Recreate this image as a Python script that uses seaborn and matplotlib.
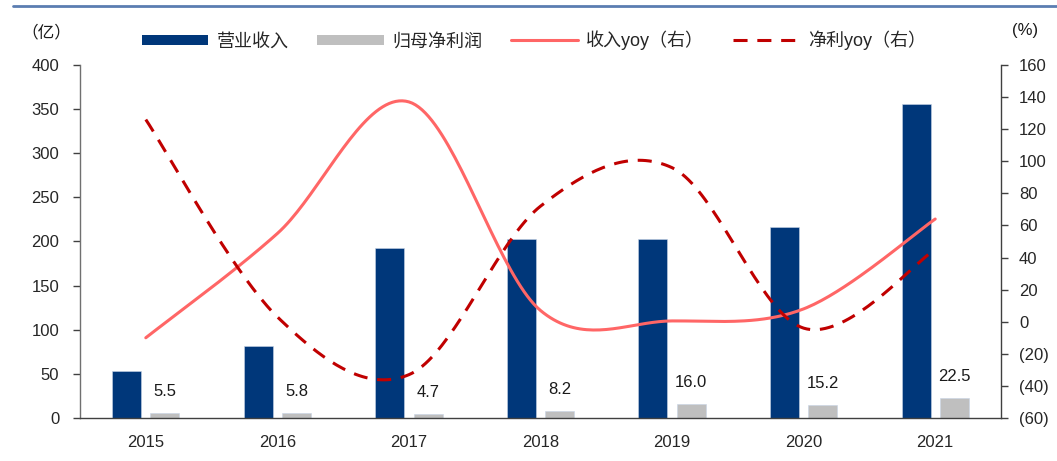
import numpy as np
import pandas as pd
import matplotlib
matplotlib.use("Agg")
import matplotlib.pyplot as plt
import seaborn as sns
from matplotlib.patches import Patch
from matplotlib.lines import Line2D
from matplotlib.ticker import FuncFormatter, MultipleLocator

# ---------------- data ----------------
years = ["2015", "2016", "2017", "2018", "2019", "2020", "2021"]
revenue = [53, 82, 193, 203, 203, 216, 356]          # 营业收入 (亿)
net_profit = [5.5, 5.8, 4.7, 8.2, 16.0, 15.2, 22.5]  # 归母净利润 (亿)
revenue_yoy = [-10, 55, 137, 7, 0.5, 8, 64]          # 收入yoy (%)
profit_yoy = [126, 3, -33, 72, 96, -4, 45]           # 净利yoy (%)

labels_cn = ["营业收入", "归母净利润", "收入yoy（右）", "净利yoy（右）"]

# ---------------- style ----------------
sns.set_theme(style="white")
plt.rcParams["font.family"] = ["Liberation Sans", "Noto Sans CJK SC", "DejaVu Sans"]

NAVY = "#00377A"
GREY = "#BFBFBF"
RED_L = "#FF6666"
RED_D = "#C00000"
DASH = (0, (4.6, 3.2))

fig = plt.figure(figsize=(10.57, 4.61), dpi=100)
ax = fig.add_axes([0.0757, 0.0933, 0.8713, 0.7657])

df = pd.DataFrame({
    "year": years * 2,
    "value": revenue + net_profit,
    "series": [labels_cn[0]] * len(years) + [labels_cn[1]] * len(years),
})
sns.barplot(data=df, x="year", y="value", hue="series", order=years,
            hue_order=labels_cn[:2], palette=[NAVY, GREY], width=0.58, gap=0.24,
            dodge=True, legend=False, ax=ax, edgecolor="#c8d4e6", linewidth=0.4,
            saturation=1)

# data labels for net profit bars
off = 0.145
for i, v in enumerate(net_profit):
    ax.annotate(f"{v:.1f}", xy=(i + off, v), xytext=(0, 15.5), textcoords="offset points",
                ha="center", va="center", fontsize=12, color="#1a1a1a")

ax.set_xlim(-0.5, len(years) - 0.5)
ax.set_ylim(0, 400)
ax.yaxis.set_major_locator(MultipleLocator(50))
ax.set_xlabel("")
ax.set_ylabel("")

# x ticks at category boundaries (tick marks), labels at centres
ax.set_xticks(np.arange(len(years)))
ax.set_xticklabels(years, fontsize=12)
ax.set_xticks(np.arange(-0.5, len(years) + 0.5, 1), minor=True)
ax.tick_params(axis="x", which="major", length=0, pad=12)
ax.tick_params(axis="x", which="minor", length=5, width=1, color="#404040", direction="out")
ax.tick_params(axis="y", length=5, width=1, color="#404040", direction="out", pad=10,
               labelsize=12, left=True)

for s in ["top", "right"]:
    ax.spines[s].set_visible(False)
ax.spines["left"].set_color("#707070")
ax.spines["bottom"].set_color("#404040")
ax.spines["left"].set_linewidth(1)
ax.spines["bottom"].set_linewidth(1)

# ---------------- right axis ----------------
ax2 = ax.twinx()
ax2.set_ylim(-60, 160)
ax2.yaxis.set_major_locator(MultipleLocator(20))
ax2.yaxis.set_major_formatter(FuncFormatter(lambda v, p: f"({abs(int(v))})" if v < 0 else f"{int(v)}"))
ax2.tick_params(axis="y", length=5, width=1, color="#404040", direction="out", pad=8,
                labelsize=12, right=True)
for s in ["top", "left", "bottom"]:
    ax2.spines[s].set_visible(False)
ax2.spines["right"].set_color("#404040")
ax2.spines["right"].set_linewidth(1)


def smooth(vals, n=40):
    """Bezier smoothing through the given points (Excel-style smoothed line)."""
    pts = np.column_stack([np.arange(len(vals), dtype=float), np.asarray(vals, float)])
    xs, ys = [], []
    m = len(pts)
    for i in range(m - 1):
        p0 = pts[max(i - 1, 0)]
        p1 = pts[i]
        p2 = pts[i + 1]
        p3 = pts[min(i + 2, m - 1)]
        c1 = p1 + (p2 - p0) / 6.0
        c2 = p2 - (p3 - p1) / 6.0
        t = np.linspace(0, 1, n, endpoint=(i == m - 2))[:, None]
        seg = ((1 - t) ** 3) * p1 + 3 * ((1 - t) ** 2) * t * c1 + 3 * (1 - t) * t ** 2 * c2 + t ** 3 * p2
        xs.append(seg[:, 0])
        ys.append(seg[:, 1])
    return np.concatenate(xs), np.concatenate(ys)


rx, ry = smooth(revenue_yoy)
px, py = smooth(profit_yoy)
sns.lineplot(x=rx, y=ry, sort=False, estimator=None, ax=ax2, color=RED_L, linewidth=2.2)
sns.lineplot(x=px, y=py, sort=False, estimator=None, ax=ax2, color=RED_D, linewidth=2.2,
             linestyle=DASH)
ax2.set_xlim(-0.5, len(years) - 0.5)
ax2.set_ylabel("")

# ---------------- unit labels ----------------
fig.text(0.02, 0.93, "（亿）", fontsize=12, ha="left", va="center", color="#1a1a1a")
fig.text(0.957, 0.933, "(%)", fontsize=12, ha="left", va="center", color="#1a1a1a")

# ---------------- legend ----------------
handles = [
    Patch(facecolor=NAVY, edgecolor="none"),
    Patch(facecolor=GREY, edgecolor="none"),
    Line2D([], [], color=RED_L, linewidth=2.2),
    Line2D([], [], color=RED_D, linewidth=2.2, linestyle=DASH),
]
fig.legend(handles, labels_cn, loc="center", bbox_to_anchor=(0.505, 0.912), ncol=4,
           frameon=False, fontsize=13, handlelength=3.7, handleheight=0.55,
           handletextpad=0.45, columnspacing=1.6)

# top decorative rule
fig.add_artist(Line2D([0.012, 1.0], [0.987, 0.987], transform=fig.transFigure,
                      color="#5B7DB1", linewidth=2))

fig.savefig("out.png", dpi=100)
